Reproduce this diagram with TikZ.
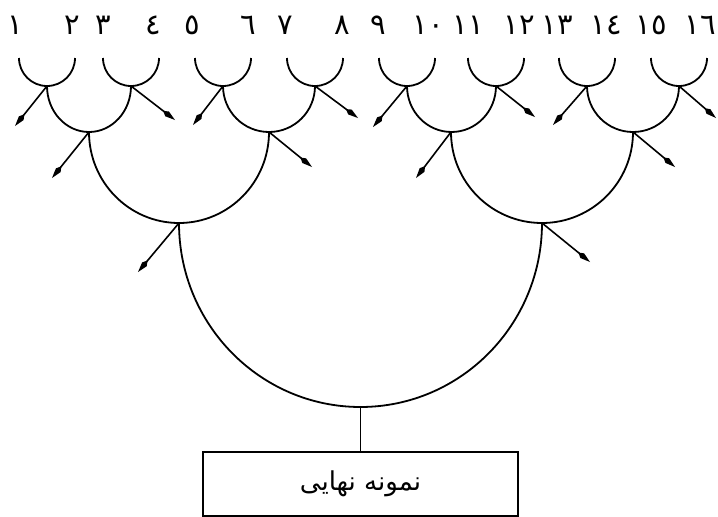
\documentclass[tikz,border=0pt]{standalone}
\usepackage{fontspec}
\usetikzlibrary{arrows.meta}
\TeXXeTstate=1
\newfontfamily\arabicfont[Script=Arabic]{DejaVu Sans}
\begin{document}
\begin{tikzpicture}[x=1pt,y=-1pt,
  wire/.style={line width=1.8pt},
  outarrow/.style={line width=1.6pt,-{Kite[length=15pt,width=6pt,inset=5pt]}},
  numlabel/.style={inner sep=0pt,font=\arabicfont\fontsize{29}{29}\selectfont},
  finalbox/.style={draw,line width=1.9pt,minimum width=315pt,minimum height=64pt,inner sep=0pt,
    font=\arabicfont\fontsize{26}{26}\selectfont}]
\useasboundingbox (0,0) rectangle (718,517);

% sample numbers along the top
\node[numlabel] (n1)  at (15,25)  {١};
\node[numlabel] (n2)  at (72,25)  {٢};
\node[numlabel] (n3)  at (103,25) {٣};
\node[numlabel] (n4)  at (153,25) {٤};
\node[numlabel] (n5)  at (192,25) {٥};
\node[numlabel] (n6)  at (248,25) {٦};
\node[numlabel] (n7)  at (285,25) {٧};
\node[numlabel] (n8)  at (342,25) {٨};
\node[numlabel] (n9)  at (378,25) {٩};
\node[numlabel] (n10) at (428,25) {١٠};
\node[numlabel] (n11) at (468,25) {١١};
\node[numlabel] (n12) at (519,25) {١٢};
\node[numlabel] (n13) at (557,25) {١٣};
\node[numlabel] (n14) at (606,25) {١٤};
\node[numlabel] (n15) at (651,25) {١٥};
\node[numlabel,anchor=east] (n16) at (716,25) {١٦};

% first round: left ends of the small cups and their meeting points
\foreach \i/\c in {1/47,2/131,3/223,4/315,5/407,6/496,7/587,8/679}{
  \coordinate (a\i) at (\c-28,58);
  \coordinate (j\i) at (\c,86);
}
% second and third rounds
\coordinate (k1) at (89,132);
\coordinate (k2) at (269,132);
\coordinate (k3) at (451,132);
\coordinate (k4) at (633,132);
\coordinate (l1) at (179,223);
\coordinate (l2) at (542,223);
\coordinate (m)  at (360.5,407);

% cups
\foreach \i in {1,...,8}{
  \draw[wire] (a\i) arc[start angle=180,end angle=0,radius=28];
}
\draw[wire] (j1) arc[start angle=180,end angle=0,x radius=42,y radius=46];
\draw[wire] (j3) arc[start angle=180,end angle=0,x radius=46,y radius=46];
\draw[wire] (j5) arc[start angle=180,end angle=0,x radius=44.5,y radius=46];
\draw[wire] (j7) arc[start angle=180,end angle=0,x radius=46,y radius=46];
\draw[wire] (k1) arc[start angle=180,end angle=0,x radius=90,y radius=91];
\draw[wire] (k3) arc[start angle=180,end angle=0,x radius=91,y radius=91];
\draw[wire] (l1) arc[start angle=180,end angle=0,x radius=181.5,y radius=184];

% discarded branches
\coordinate (t1) at (15,126);
\coordinate (t2) at (175,120);
\coordinate (t3) at (193,125);
\coordinate (t4) at (358,118);
\coordinate (t5) at (373,127);
\coordinate (t6) at (535,117);
\coordinate (t7) at (553,125);
\coordinate (t8) at (716,118);
\foreach \i in {1,...,8}{ \draw[outarrow] (j\i) -- (t\i); }
\coordinate (u1) at (52,178);
\coordinate (u2) at (312,167);
\coordinate (u3) at (416,178);
\coordinate (u4) at (675,167);
\foreach \i in {1,...,4}{ \draw[outarrow] (k\i) -- (u\i); }
\coordinate (v1) at (138,272);
\coordinate (v2) at (590,262);
\draw[outarrow] (l1) -- (v1);
\draw[outarrow] (l2) -- (v2);

% final result
\node[finalbox,anchor=north] (final) at (360.5,451) {\beginR نمونه نهایی\endR};
\draw[wire] (m) -- (final.north);
\end{tikzpicture}
\end{document}
